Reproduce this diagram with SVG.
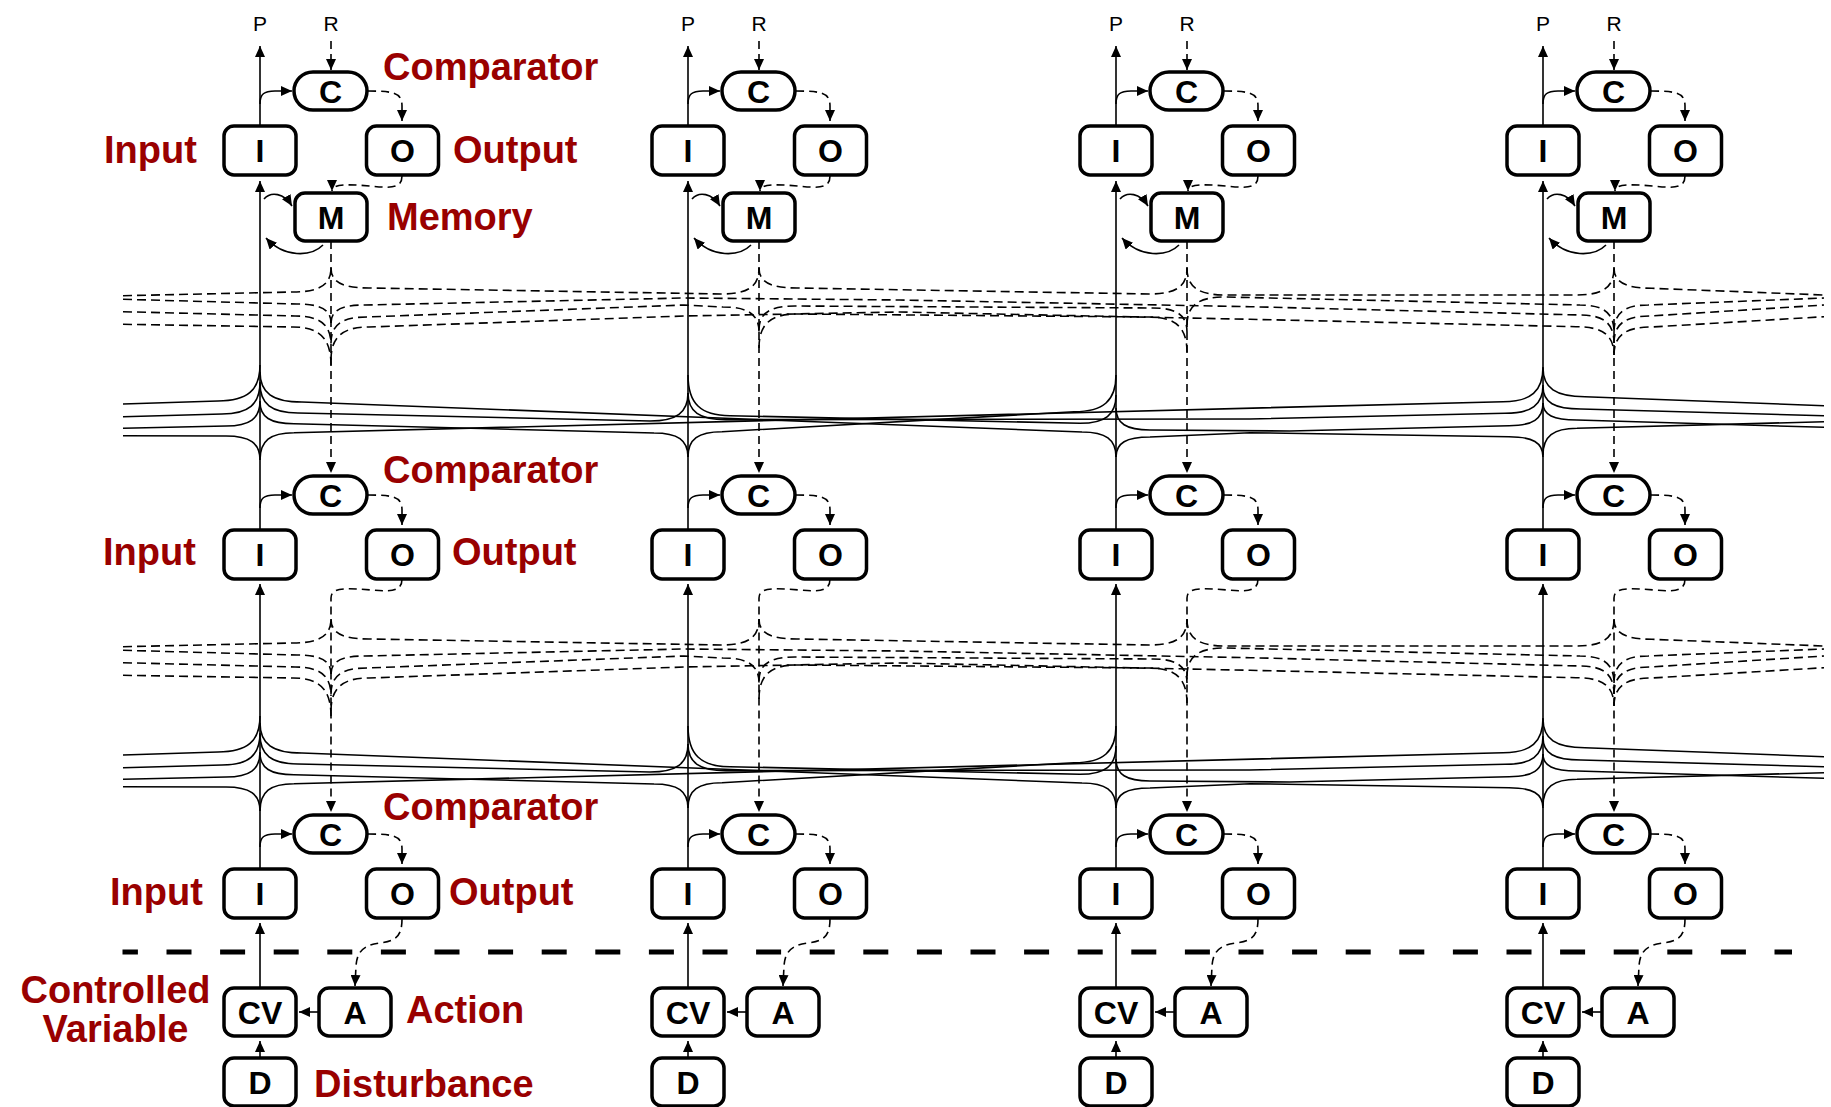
<svg xmlns="http://www.w3.org/2000/svg" xmlns:xlink="http://www.w3.org/1999/xlink" width="1831" height="1107" viewBox="0 0 1831 1107">
<defs>
<style>
.box{fill:#fff;stroke:#000;stroke-width:3.5}
.nt{font-family:"Liberation Sans",Arial,sans-serif;font-weight:bold;font-size:32px;text-anchor:middle;fill:#000}
.lab{font-family:"Liberation Sans",Arial,sans-serif;font-weight:bold;font-size:38px;fill:#990000}
.pr{font-family:"Liberation Sans",Arial,sans-serif;font-size:21px;text-anchor:middle;fill:#000}
.s{fill:none;stroke:#000;stroke-width:1.6}
.d{fill:none;stroke:#000;stroke-width:1.6;stroke-dasharray:9 5}
.sa{fill:none;stroke:#000;stroke-width:1.6;marker-end:url(#ah)}
.da{fill:none;stroke:#000;stroke-width:1.6;stroke-dasharray:8 5;marker-end:url(#ah)}
</style>
<marker id="ah" markerUnits="userSpaceOnUse" viewBox="0 0 11 10" markerWidth="11" markerHeight="10" refX="11" refY="5" orient="auto"><path d="M0,0 L11,5 L0,10 Z" fill="#000"/></marker>
<g id="band-a">
<g class="s">
<path d="M123,404 L218,401 C247.4,401 260,390.2 260,365"/>
<path d="M123,416.7 L222,414 C248.6,414 260,404.4 260,382"/>
<path d="M123,428.3 L226,426 C249.8,426 260,418.5 260,401"/>
<path d="M123,435.7 L226,436 C249.8,436 260,443.2 260,460"/>
<path d="M260,371.7 C260,392.9 272.6,402 302,402 L1082,432 C1105.8,432 1116,439.5 1116,457"/>
<path d="M260,383.3 C260,404.1 271.4,413 298,413 L650,421 C676.6,421 688,412.6 688,393"/>
<path d="M260,401.7 C260,417.1 270.2,423.7 294,423.7 L654,433 C677.8,433 688,440.2 688,457"/>
<path d="M260,460 C260,440.9 270.2,432.7 294,432.7 L1503,401.7 C1531,401.7 1543,391.3 1543,367"/>
<path d="M688,375 C688,403.5 700.6,415.7 730,415.7 L1080,423.3 C1105.2,423.3 1116,414.8 1116,395"/>
<path d="M688,393 C688,411.7 699.4,419.7 726,419.7 L1250,419 L1505,413.3 C1531.6,413.3 1543,404.8 1543,385"/>
<path d="M688,457 C688,439.3 698.2,431.7 722,431.7 L1074,411.7 C1103.4,411.7 1116,400.7 1116,375"/>
<path d="M1116,408 C1116,423.4 1126.2,430 1150,430 L1290,431 L1509,425.7 C1532.8,425.7 1543,418.9 1543,403"/>
<path d="M1116,457 C1116,443 1126.2,437 1150,437 L1250,432.7 L1509,436.7 C1532.8,436.7 1543,442.8 1543,457"/>
<path d="M1543,368 C1543,388.1 1555.6,396.7 1585,396.7 L1824,405.7"/>
<path d="M1543,386.7 C1543,402.3 1554.4,409 1581,409 L1824,415.7"/>
<path d="M1543,403 C1543,414.9 1553.2,420 1577,420 L1824,427.3"/>
<path d="M1543,455 C1543,436.4 1553.2,428.3 1577,428.3 L1824,421.7"/>
</g>
<g class="d">
<path d="M123,295.7 L293,292 C319.6,292 331,284.8 331,268"/>
<path d="M123,299.3 L297,304 C320.8,304 331,309.7 331,323"/>
<path d="M123,311.7 L295,316 C320.2,316 331,324.7 331,345"/>
<path d="M123,324.3 L293,327 C319.6,327 331,338.4 331,365"/>
<path d="M331,268 C331,282 342.4,288 369,288 L721,294 C747.6,294 759,286.8 759,268"/>
<path d="M331,323 C331,310.4 341.2,305 365,305 L684,298 L900,300 L1250,306.7 L1580,315 C1603.8,315 1614,323.4 1614,343"/>
<path d="M331,343 C331,324.8 341.8,317 367,317 L684,305 L723,307 C748.2,307 759,314.5 759,332"/>
<path d="M331,360 C331,336.9 342.4,327 369,327 L684,316 L900,312 L1250,319.3 L1576,326.7 C1602.6,326.7 1614,335.2 1614,355"/>
<path d="M759,268 C759,282 770.4,288 797,288 L1149,294 C1175.6,294 1187,286.8 1187,268"/>
<path d="M759,330 C759,313.2 769.8,306 795,306 L1153,308 C1176.8,308 1187,315.2 1187,332"/>
<path d="M759,348 C759,324.2 770.4,314 797,314 L1149,317 C1175.6,317 1187,327.5 1187,352"/>
<path d="M1187,268 C1187,286.9 1198.4,295 1225,295 L1576,295 C1602.6,295 1614,287.8 1614,268"/>
<path d="M1187,325 C1187,305.4 1198.4,297 1225,297 L1580,305 C1603.8,305 1614,313.1 1614,332"/>
<path d="M1614,268 C1614,282.1 1625.4,288.3 1652,288.3 L1824,295"/>
<path d="M1614,332 C1614,313.1 1624.2,305 1648,305 L1824,298"/>
<path d="M1614,343 C1614,324.1 1624.8,316 1650,316 L1824,305"/>
<path d="M1614,355 C1614,335.4 1625.4,327 1652,327 L1824,316.7"/>
</g>
</g>
<g id="colconn">
<path class="sa" d="M260,126 L260,46"/>
<path class="da" d="M331,41 L331,70"/>
<path class="sa" d="M260,104 C260,94 264,91 275,91 L292,91"/>
<path class="da" d="M368,91 C394,91 402,93 402,106 L402,121"/>
<path class="da" d="M402,176 C402,189 390,188 370,186 C346,184 332,184 332,191"/>
<path class="sa" d="M264,199 C271,191 284,193 292,206"/>
<path class="sa" d="M323,245 C311,257 284,258 266,238"/>
<path class="sa" d="M260,530 L260,181"/>
<path class="da" d="M331,241 L331,473"/>
<path class="sa" d="M260,508 C260,498 264,495 275,495 L292,495"/>
<path class="da" d="M368,495 C394,495 402,497 402,510 L402,525"/>
<path class="da" d="M402,579 C402,591 392,592 372,590 C346,588 331,587 331,598 L331,812"/>
<path class="sa" d="M260,869 L260,584"/>
<path class="sa" d="M260,847 C260,837 264,834 275,834 L292,834"/>
<path class="da" d="M368,834 C394,834 402,836 402,849 L402,864"/>
<path class="da" d="M402,919 C402,936 396,941 380,943 C363,945 357,952 356,966 L355,986"/>
<path class="sa" d="M260,987 L260,923"/>
<path class="sa" d="M318,1012 L299,1012"/>
<path class="sa" d="M260,1057 L260,1041"/>
</g>
</defs>
<rect width="1831" height="1107" fill="#fff"/>
<g id="connectors">
<use xlink:href="#band-a"/>
<use xlink:href="#band-a" transform="translate(0,351)"/>
<use xlink:href="#colconn"/>
<use xlink:href="#colconn" transform="translate(428,0)"/>
<use xlink:href="#colconn" transform="translate(856,0)"/>
<use xlink:href="#colconn" transform="translate(1283,0)"/>
<line x1="122.5" y1="952" x2="1792" y2="952" stroke="#000" stroke-width="5" stroke-dasharray="25 28.6" stroke-dashoffset="9.6"/>
</g>
<g id="labels">
<text class="lab" x="383" y="80">Comparator</text>
<text class="lab" x="104" y="163">Input</text>
<text class="lab" x="453" y="163">Output</text>
<text class="lab" x="387" y="230">Memory</text>
<text class="lab" x="383" y="483">Comparator</text>
<text class="lab" x="103" y="565">Input</text>
<text class="lab" x="452" y="565">Output</text>
<text class="lab" x="383" y="820">Comparator</text>
<text class="lab" x="110" y="905">Input</text>
<text class="lab" x="449" y="905">Output</text>
<text class="lab" x="115.5" y="1003" text-anchor="middle">Controlled</text>
<text class="lab" x="115.5" y="1042" text-anchor="middle">Variable</text>
<text class="lab" x="406" y="1023">Action</text>
<text class="lab" x="314" y="1097">Disturbance</text>
</g>
<g id="col1">
<text class="pr" x="260" y="31">P</text><text class="pr" x="331" y="31">R</text>
<g id="c1-l1-C"><rect class="box" x="294" y="72" width="73" height="38" rx="19"/><text class="nt" x="330.5" y="102.5">C</text></g>
<g id="c1-l1-I"><rect class="box" x="224" y="126" width="72" height="49" rx="10"/><text class="nt" x="260" y="162">I</text></g>
<g id="c1-l1-O"><rect class="box" x="366.5" y="126" width="72" height="49" rx="10"/><text class="nt" x="402.5" y="162">O</text></g>
<g id="c1-l1-M"><rect class="box" x="295" y="193" width="72" height="48" rx="10"/><text class="nt" x="331" y="228.5">M</text></g>
<g id="c1-l2-C"><rect class="box" x="294" y="476" width="73" height="38" rx="19"/><text class="nt" x="330.5" y="506.5">C</text></g>
<g id="c1-l2-I"><rect class="box" x="224" y="530" width="72" height="49" rx="10"/><text class="nt" x="260" y="566">I</text></g>
<g id="c1-l2-O"><rect class="box" x="366.5" y="530" width="72" height="49" rx="10"/><text class="nt" x="402.5" y="566">O</text></g>
<g id="c1-l3-C"><rect class="box" x="294" y="815" width="73" height="38" rx="19"/><text class="nt" x="330.5" y="845.5">C</text></g>
<g id="c1-l3-I"><rect class="box" x="224" y="869" width="72" height="49" rx="10"/><text class="nt" x="260" y="905">I</text></g>
<g id="c1-l3-O"><rect class="box" x="366.5" y="869" width="72" height="49" rx="10"/><text class="nt" x="402.5" y="905">O</text></g>
<g id="c1-CV"><rect class="box" x="224" y="988" width="72" height="48" rx="10"/><text class="nt" x="260" y="1023.5">CV</text></g>
<g id="c1-A"><rect class="box" x="319" y="988" width="72" height="48" rx="10"/><text class="nt" x="355" y="1023.5">A</text></g>
<g id="c1-D"><rect class="box" x="224" y="1058" width="72" height="48" rx="10"/><text class="nt" x="260" y="1093.5">D</text></g>
</g>
<g id="col2" transform="translate(428,0)">
<text class="pr" x="260" y="31">P</text><text class="pr" x="331" y="31">R</text>
<g id="c2-l1-C"><rect class="box" x="294" y="72" width="73" height="38" rx="19"/><text class="nt" x="330.5" y="102.5">C</text></g>
<g id="c2-l1-I"><rect class="box" x="224" y="126" width="72" height="49" rx="10"/><text class="nt" x="260" y="162">I</text></g>
<g id="c2-l1-O"><rect class="box" x="366.5" y="126" width="72" height="49" rx="10"/><text class="nt" x="402.5" y="162">O</text></g>
<g id="c2-l1-M"><rect class="box" x="295" y="193" width="72" height="48" rx="10"/><text class="nt" x="331" y="228.5">M</text></g>
<g id="c2-l2-C"><rect class="box" x="294" y="476" width="73" height="38" rx="19"/><text class="nt" x="330.5" y="506.5">C</text></g>
<g id="c2-l2-I"><rect class="box" x="224" y="530" width="72" height="49" rx="10"/><text class="nt" x="260" y="566">I</text></g>
<g id="c2-l2-O"><rect class="box" x="366.5" y="530" width="72" height="49" rx="10"/><text class="nt" x="402.5" y="566">O</text></g>
<g id="c2-l3-C"><rect class="box" x="294" y="815" width="73" height="38" rx="19"/><text class="nt" x="330.5" y="845.5">C</text></g>
<g id="c2-l3-I"><rect class="box" x="224" y="869" width="72" height="49" rx="10"/><text class="nt" x="260" y="905">I</text></g>
<g id="c2-l3-O"><rect class="box" x="366.5" y="869" width="72" height="49" rx="10"/><text class="nt" x="402.5" y="905">O</text></g>
<g id="c2-CV"><rect class="box" x="224" y="988" width="72" height="48" rx="10"/><text class="nt" x="260" y="1023.5">CV</text></g>
<g id="c2-A"><rect class="box" x="319" y="988" width="72" height="48" rx="10"/><text class="nt" x="355" y="1023.5">A</text></g>
<g id="c2-D"><rect class="box" x="224" y="1058" width="72" height="48" rx="10"/><text class="nt" x="260" y="1093.5">D</text></g>
</g>
<g id="col3" transform="translate(856,0)">
<text class="pr" x="260" y="31">P</text><text class="pr" x="331" y="31">R</text>
<g id="c3-l1-C"><rect class="box" x="294" y="72" width="73" height="38" rx="19"/><text class="nt" x="330.5" y="102.5">C</text></g>
<g id="c3-l1-I"><rect class="box" x="224" y="126" width="72" height="49" rx="10"/><text class="nt" x="260" y="162">I</text></g>
<g id="c3-l1-O"><rect class="box" x="366.5" y="126" width="72" height="49" rx="10"/><text class="nt" x="402.5" y="162">O</text></g>
<g id="c3-l1-M"><rect class="box" x="295" y="193" width="72" height="48" rx="10"/><text class="nt" x="331" y="228.5">M</text></g>
<g id="c3-l2-C"><rect class="box" x="294" y="476" width="73" height="38" rx="19"/><text class="nt" x="330.5" y="506.5">C</text></g>
<g id="c3-l2-I"><rect class="box" x="224" y="530" width="72" height="49" rx="10"/><text class="nt" x="260" y="566">I</text></g>
<g id="c3-l2-O"><rect class="box" x="366.5" y="530" width="72" height="49" rx="10"/><text class="nt" x="402.5" y="566">O</text></g>
<g id="c3-l3-C"><rect class="box" x="294" y="815" width="73" height="38" rx="19"/><text class="nt" x="330.5" y="845.5">C</text></g>
<g id="c3-l3-I"><rect class="box" x="224" y="869" width="72" height="49" rx="10"/><text class="nt" x="260" y="905">I</text></g>
<g id="c3-l3-O"><rect class="box" x="366.5" y="869" width="72" height="49" rx="10"/><text class="nt" x="402.5" y="905">O</text></g>
<g id="c3-CV"><rect class="box" x="224" y="988" width="72" height="48" rx="10"/><text class="nt" x="260" y="1023.5">CV</text></g>
<g id="c3-A"><rect class="box" x="319" y="988" width="72" height="48" rx="10"/><text class="nt" x="355" y="1023.5">A</text></g>
<g id="c3-D"><rect class="box" x="224" y="1058" width="72" height="48" rx="10"/><text class="nt" x="260" y="1093.5">D</text></g>
</g>
<g id="col4" transform="translate(1283,0)">
<text class="pr" x="260" y="31">P</text><text class="pr" x="331" y="31">R</text>
<g id="c4-l1-C"><rect class="box" x="294" y="72" width="73" height="38" rx="19"/><text class="nt" x="330.5" y="102.5">C</text></g>
<g id="c4-l1-I"><rect class="box" x="224" y="126" width="72" height="49" rx="10"/><text class="nt" x="260" y="162">I</text></g>
<g id="c4-l1-O"><rect class="box" x="366.5" y="126" width="72" height="49" rx="10"/><text class="nt" x="402.5" y="162">O</text></g>
<g id="c4-l1-M"><rect class="box" x="295" y="193" width="72" height="48" rx="10"/><text class="nt" x="331" y="228.5">M</text></g>
<g id="c4-l2-C"><rect class="box" x="294" y="476" width="73" height="38" rx="19"/><text class="nt" x="330.5" y="506.5">C</text></g>
<g id="c4-l2-I"><rect class="box" x="224" y="530" width="72" height="49" rx="10"/><text class="nt" x="260" y="566">I</text></g>
<g id="c4-l2-O"><rect class="box" x="366.5" y="530" width="72" height="49" rx="10"/><text class="nt" x="402.5" y="566">O</text></g>
<g id="c4-l3-C"><rect class="box" x="294" y="815" width="73" height="38" rx="19"/><text class="nt" x="330.5" y="845.5">C</text></g>
<g id="c4-l3-I"><rect class="box" x="224" y="869" width="72" height="49" rx="10"/><text class="nt" x="260" y="905">I</text></g>
<g id="c4-l3-O"><rect class="box" x="366.5" y="869" width="72" height="49" rx="10"/><text class="nt" x="402.5" y="905">O</text></g>
<g id="c4-CV"><rect class="box" x="224" y="988" width="72" height="48" rx="10"/><text class="nt" x="260" y="1023.5">CV</text></g>
<g id="c4-A"><rect class="box" x="319" y="988" width="72" height="48" rx="10"/><text class="nt" x="355" y="1023.5">A</text></g>
<g id="c4-D"><rect class="box" x="224" y="1058" width="72" height="48" rx="10"/><text class="nt" x="260" y="1093.5">D</text></g>
</g>
</svg>
